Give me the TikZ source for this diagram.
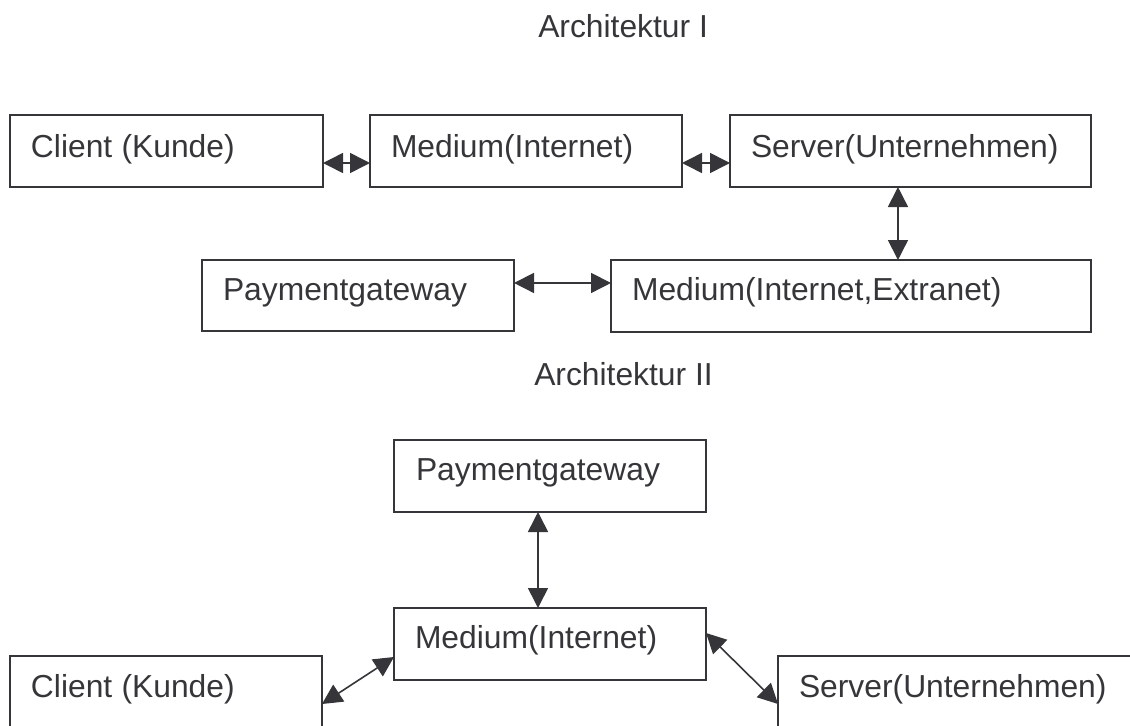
\documentclass[tikz,border=0pt]{standalone}
\usepackage{fontspec}
\setmainfont{Liberation Sans}
\usetikzlibrary{arrows.meta}
\definecolor{ink}{HTML}{36363A}
\newcommand{\pbox}[8]{% name x1 y1 x2 y2 textx basey text
  \pgfmathsetmacro{\bpad}{(#6-#2)*0.75}%
  \pgfmathsetmacro{\btw}{(#4-#2-2*(#6-#2))*0.75}%
  \pgfmathsetmacro{\bth}{(#7-#3)*0.75}%
  \pgfmathsetmacro{\btd}{(#5-#7)*0.75}%
  \node[boxnode,anchor=north west,inner xsep=\bpad pt,text width=\btw pt,text height=\bth pt,text depth=\btd pt] (#1) at (#2,#3) {#8};}
\tikzset{
  x=0.75pt,y=-0.75pt,
  boxnode/.style={draw=ink,line width=1.2pt,inner ysep=0pt,outer sep=0pt,align=left,text=ink,font=\fontsize{23.85}{28}\selectfont},
  titlenode/.style={text=ink,inner sep=0pt,anchor=base west,font=\fontsize{23.85}{28}\selectfont},
  link/.style={draw=ink,line width=1.2pt,{Triangle[length=15pt,width=15pt]}-{Triangle[length=15pt,width=15pt]}}
}
\begin{document}
\begin{tikzpicture}
\useasboundingbox (0,0) rectangle (1130,725);
\begin{scope}
\clip (0,0) rectangle (1130,725);
\node[titlenode] (t1) at (538,37) {Architektur I};
\node[titlenode] (t2) at (534,385) {Architektur II};
\pbox{c1}{10}{115}{323}{187}{31}{157}{Client\hspace{-1pt} (Kunde)}
\pbox{m1}{370}{115}{682}{187}{391}{157}{Medium(Internet)}
\pbox{s1}{730}{115}{1091}{187}{751}{157}{Server(Unternehmen)}
\pbox{p1}{202}{260}{514}{331}{223}{300}{Paymentgateway}
\pbox{m2}{611}{260}{1091}{332}{632}{300}{Medium(Internet,Extranet)}
\pbox{p2}{394}{440}{706}{512}{416}{480}{Paymentgateway}
\pbox{m3}{394}{608}{706}{680}{415}{648}{Medium(Internet)}
\pbox{c2}{10}{656}{322}{760}{31}{697}{Client\hspace{-1pt} (Kunde)}
\pbox{s2}{778}{656}{1160}{760}{799}{697}{Server(Unternehmen)}
\draw[link] ([yshift=-9pt]c1.east) -- ([yshift=-9pt]m1.west);
\draw[link] ([yshift=-9pt]m1.east) -- ([yshift=-9pt]s1.west);
\draw[link] ([xshift=-9.4pt]s1.south) -- ([xshift=-9.4pt]s1.south |- m2.north);
\draw[link] ([yshift=9.4pt]p1.east) -- ([yshift=9.4pt]p1.east -| m2.west);
\draw[link] ([xshift=-9pt]p2.south) -- ([xshift=-9pt]p2.south |- m3.north);
\draw[link] ([yshift=-36pt]c2.north east) -- ([yshift=-9.75pt]m3.west);
\draw[link] ([yshift=8.25pt]m3.east) -- ([yshift=-36pt]s2.north west);
\end{scope}
\end{tikzpicture}
\end{document}
